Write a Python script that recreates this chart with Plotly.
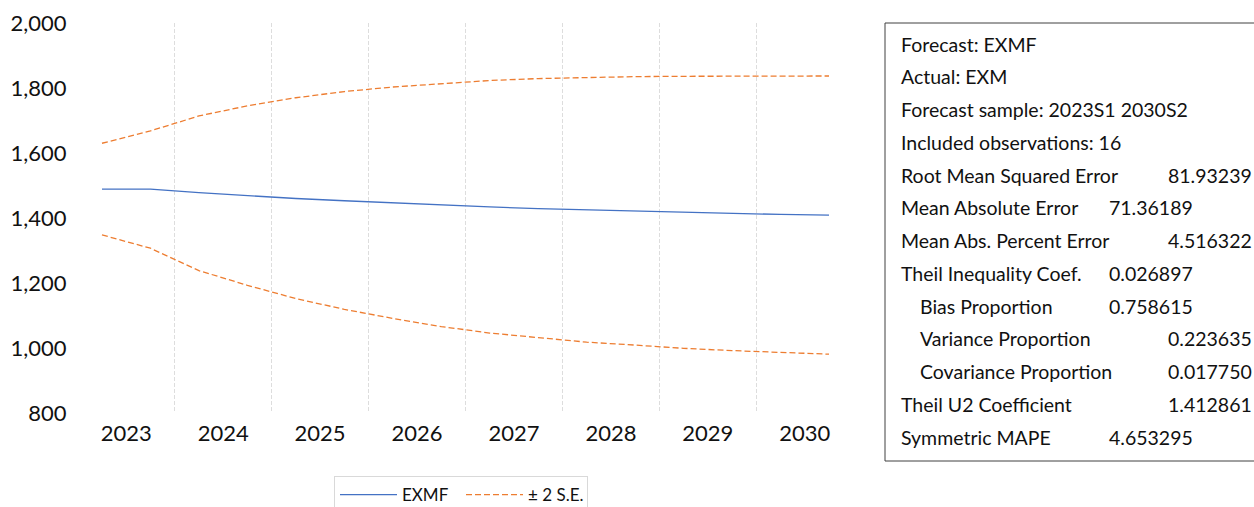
import plotly.graph_objects as go

# ---------------- data ----------------
periods = ["2023S1", "2023S2", "2024S1", "2024S2", "2025S1", "2025S2", "2026S1", "2026S2",
           "2027S1", "2027S2", "2028S1", "2028S2", "2029S1", "2029S2", "2030S1", "2030S2"]
years = ["2023", "2024", "2025", "2026", "2027", "2028", "2029", "2030"]
forecast = [1489, 1489, 1478, 1468, 1460, 1453, 1446, 1440, 1434, 1429, 1425, 1421, 1417, 1414, 1411, 1409]
upper = [1630, 1668, 1714, 1745, 1770, 1789, 1803, 1814, 1823, 1829, 1833, 1835, 1836, 1837, 1837, 1837]
lower = [1348, 1307, 1238, 1193, 1152, 1119, 1091, 1066, 1046, 1031, 1018, 1009, 999, 992, 986, 981]

stat_labels = ["Forecast: EXMF", "Actual: EXM", "Forecast sample: 2023S1 2030S2",
               "Included observations: 16", "Root Mean Squared Error", "Mean Absolute Error",
               "Mean Abs. Percent Error", "Theil Inequality Coef.", "Bias Proportion",
               "Variance Proportion", "Covariance Proportion", "Theil U2 Coefficient",
               "Symmetric MAPE"]
stat_values = ["", "", "", "", "81.93239", "71.36189", "4.516322", "0.026897", "0.758615",
               "0.223635", "0.017750", "1.412861", "4.653295"]

# ---------------- layout helpers ----------------
W, H = 1254, 507
FONT = "Lato"
def px_x(x):
    return x / W
def px_y(y):
    return 1 - y / H

idx = list(range(len(periods)))
year_ticks = [i + 0.5 for i in range(0, len(periods), 2)]
year_bounds = [i + 1.5 for i in range(0, len(periods) - 2, 2)]

BLUE = "#4472C4"
ORANGE = "#ED7D31"
DASH = "6px,3px"

fig = go.Figure()
fig.add_trace(go.Scatter(x=idx, y=forecast, mode="lines", name="EXMF",
                         line=dict(color=BLUE, width=1.3)))
fig.add_trace(go.Scatter(x=idx, y=upper, mode="lines", name="\u00b1 2 S.E.",
                         legendgroup="se", line=dict(color=ORANGE, width=1.3, dash=DASH)))
fig.add_trace(go.Scatter(x=idx, y=lower, mode="lines", name="\u00b1 2 S.E.",
                         legendgroup="se", showlegend=False,
                         line=dict(color=ORANGE, width=1.3, dash=DASH)))

fig.update_layout(
    width=W, height=H,
    margin=dict(l=0, r=0, t=0, b=0, autoexpand=False),
    paper_bgcolor="white", plot_bgcolor="white",
    font=dict(family=FONT, color="#111111"),
    showlegend=True,
    legend=dict(orientation="h", x=px_x(334), xanchor="left", y=px_y(476), yanchor="top",
                bordercolor="#D9D9D9", borderwidth=1, bgcolor="white",
                font=dict(family=FONT, size=17, color="#111111"),
                itemwidth=57, entrywidth=54, entrywidthmode="pixels", traceorder="normal"),
    xaxis=dict(domain=[px_x(72.9), px_x(836.3)], range=[-0.6, 15.15],
               tickvals=year_ticks, ticktext=years,
               ticks="outside", ticklen=1, tickcolor="rgba(0,0,0,0)",
               tickfont=dict(family=FONT, size=22, color="#111111"),
               showgrid=False, showline=False, zeroline=False, automargin=False,
               minor=dict(tickvals=year_bounds, showgrid=True, gridcolor="#DDDDDD",
                          gridwidth=1, griddash="4px,2px", ticks="")),
    yaxis=dict(domain=[px_y(413), px_y(23)], range=[800, 2000], dtick=200,
               tickformat=",", ticks="outside", ticklen=1, tickcolor="rgba(0,0,0,0)",
               tickfont=dict(family=FONT, size=22, color="#111111"),
               showgrid=False, showline=False, zeroline=False, automargin=False),
)

# statistics box
fig.add_shape(type="rect", xref="paper", yref="paper",
              x0=px_x(885), x1=px_x(1262), y0=px_y(461), y1=px_y(23),
              line=dict(color="#404040", width=1), fillcolor="rgba(0,0,0,0)")

indented = {"Bias Proportion", "Variance Proportion", "Covariance Proportion"}
far_values = {"Root Mean Squared Error", "Mean Abs. Percent Error", "Variance Proportion",
              "Covariance Proportion", "Theil U2 Coefficient"}
for i, (lab, val) in enumerate(zip(stat_labels, stat_values)):
    yc = 44 + 32.75 * i
    fig.add_annotation(xref="paper", yref="paper", x=px_x(918 if lab in indented else 899),
                       y=px_y(yc), text=lab, showarrow=False, xanchor="left", yanchor="middle",
                       font=dict(family=FONT, size=19.5, color="#111111"))
    if val:
        fig.add_annotation(xref="paper", yref="paper", x=px_x(1166 if lab in far_values else 1107),
                           y=px_y(yc), text=val, showarrow=False, xanchor="left", yanchor="middle",
                           font=dict(family=FONT, size=19.5, color="#111111"))

fig.write_html("out.html")
